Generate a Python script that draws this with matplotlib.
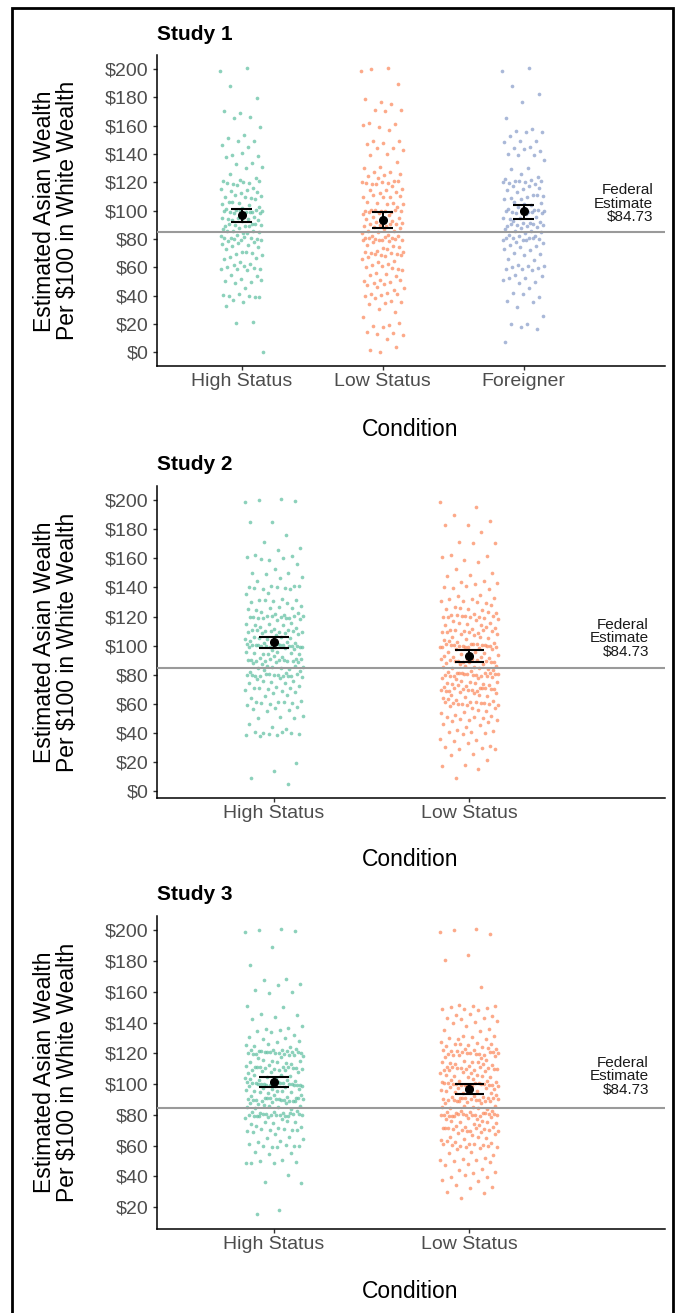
import numpy as np
import matplotlib
matplotlib.use("Agg")
import matplotlib.pyplot as plt
from matplotlib.patches import Rectangle

plt.rcParams['font.family'] = ['Liberation Sans', 'DejaVu Sans']

# ---------------- data ----------------
conds1 = ["High Status", "Low Status", "Foreigner"]
conds23 = ["High Status", "Low Status"]

# Study 1
s1_high_vals = [200,188,180,170,166,160,153,151,150,146,145,140,138,134,130,126,124,121,120,117,115,112,110,107,105,102,100,98,95,93,90,88,85,83,80,78,75,72,70,67,65,62,60,58,55,51,50,45,40,38,35,33,22,20,0]
s1_high_cnts = [2,1,1,2,2,1,1,1,2,1,1,3,1,2,2,1,1,2,5,2,3,2,5,2,4,3,9,3,5,3,7,3,5,3,8,3,4,2,4,2,2,2,5,2,2,1,4,1,5,2,1,1,1,1,1]
s1_low_vals = [200,190,178,175,172,170,162,160,157,150,147,145,142,140,135,130,128,125,122,120,118,115,112,110,107,105,102,100,98,95,92,90,88,85,82,80,78,75,72,70,67,65,62,60,57,55,50,48,45,42,40,37,35,30,25,20,18,15,12,10,3,0]
s1_low_cnts = [3,1,2,1,2,1,2,2,1,2,2,2,1,2,1,2,2,3,2,6,2,3,2,5,2,3,2,8,3,4,3,6,3,4,3,9,3,4,3,7,2,3,2,4,2,3,5,2,3,2,3,2,3,2,1,3,1,2,2,1,2,1]
s1_for_vals = [200,188,183,178,165,158,157,155,153,150,148,145,143,140,135,130,125,122,120,118,115,112,110,108,105,102,100,98,95,92,90,88,85,82,80,78,75,72,70,65,62,60,58,55,52,50,45,42,40,36,33,25,20,17,7]
s1_for_cnts = [2,1,1,1,1,1,2,1,1,2,1,2,2,3,1,2,2,3,6,2,3,2,4,2,4,3,7,3,4,4,6,3,4,3,7,3,3,2,3,2,2,4,2,2,2,3,1,1,2,2,1,1,2,2,1]

# Study 2
s2_high_vals = [200,186,184,176,172,168,165,162,160,157,152,150,146,145,142,140,135,132,130,127,125,122,120,118,115,112,110,108,105,102,100,98,95,92,90,88,85,82,80,78,75,72,70,68,65,62,60,58,55,52,50,45,42,40,38,20,15,8,5]
s2_high_cnts = [4,1,1,1,1,1,1,2,4,1,1,3,2,1,1,8,2,2,5,2,4,4,10,3,5,4,8,4,6,5,16,4,7,4,10,4,7,4,12,3,5,3,5,2,3,2,6,2,3,1,3,2,1,8,1,1,1,1,1]
s2_low_vals = [200,195,190,186,184,182,178,172,170,162,160,157,153,151,148,145,142,140,135,132,130,127,125,122,120,118,115,112,110,108,105,102,100,98,95,92,90,88,85,82,80,78,75,72,70,68,65,62,60,58,55,52,50,48,45,42,40,35,32,30,28,25,22,17,15,10]
s2_low_cnts = [1,1,1,1,1,1,1,2,1,2,2,1,1,1,2,2,2,4,2,3,4,2,4,4,9,3,5,4,8,3,5,4,15,4,6,5,10,4,7,5,14,4,7,5,12,3,5,4,10,3,4,2,6,2,3,2,4,3,2,3,1,2,1,2,1,1]

# Study 3
s3_high_vals = [200,190,177,168,166,164,161,160,150,146,143,142,137,135,133,130,127,125,122,120,118,115,112,110,108,105,102,100,98,95,92,90,88,85,82,80,78,75,72,70,68,65,62,60,55,50,48,41,37,17,15]
s3_high_cnts = [4,1,1,2,1,1,1,2,2,2,1,1,3,2,2,3,2,4,6,14,4,6,5,10,5,6,5,18,5,7,6,14,5,7,5,14,4,5,3,6,2,3,2,7,3,5,1,1,2,1,1]
s3_low_vals = [200,198,185,180,163,152,150,148,145,143,140,137,135,130,127,125,122,120,118,115,112,110,108,105,102,100,98,95,92,90,88,85,82,80,78,75,72,70,68,65,62,60,58,55,52,50,47,45,42,40,37,35,32,30,25]
s3_low_cnts = [3,1,1,1,1,2,4,2,3,3,3,2,2,6,3,5,6,12,4,6,5,10,5,6,5,16,5,7,6,12,5,7,6,14,5,6,5,10,4,5,4,8,2,3,2,4,2,2,2,3,2,1,2,2,1]

# means and 95% CI
s1_mean = [97.0, 93.2, 99.5]
s1_lo = [91.8, 87.6, 94.4]
s1_hi = [101.2, 99.1, 104.4]
s2_mean = [102.6, 92.6]
s2_lo = [98.5, 88.9]
s2_hi = [106.2, 96.7]
s3_mean = [101.6, 96.8]
s3_lo = [97.9, 93.5]
s3_hi = [104.8, 100.0]

federal = 84.73
colors = {"High Status": "#66C2A5", "Low Status": "#FC8D62", "Foreigner": "#8DA0CB"}

# ---------------- figure ----------------
W, H = 685, 1313
fig = plt.figure(figsize=(W / 100, H / 100), dpi=100)


def ax_rect(top_px, bottom_px, left_px=157, right_px=664.5):
    return [left_px / W, 1 - bottom_px / H, (right_px - left_px) / W, (bottom_px - top_px) / H]


def jitter_offsets(n, a):
    i = np.arange(n)
    return ((i * a) % 1.0 - 0.5) * 2.0


def draw_panel(ax, conds, groups, means, los, his, ylim, yticks, xlim, text_x):
    for k, (cond, (vals, cnts)) in enumerate(zip(conds, groups)):
        y = np.repeat(np.array(vals, dtype=float), cnts)
        n = len(y)
        xj = (k + 1) + 0.15 * jitter_offsets(n, 0.6180339887)
        yj = y + 1.2 * jitter_offsets(n, 0.7548776662)
        ax.scatter(xj, yj, s=7, color=colors[cond], alpha=0.75, linewidths=0, zorder=2)
    ax.axhline(federal, color="#9a9a9a", lw=1.5, zorder=3)
    xs = np.arange(1, len(conds) + 1)
    ax.vlines(xs, los, his, color="black", lw=1.4, zorder=4)
    ax.hlines(los, xs - 0.075, xs + 0.075, color="black", lw=1.5, zorder=4)
    ax.hlines(his, xs - 0.075, xs + 0.075, color="black", lw=1.5, zorder=4)
    ax.plot(xs, means, "o", color="black", ms=5.5, zorder=5)
    ax.text(text_x, 105, "Federal\nEstimate\n$84.73", ha="right", va="center",
            fontsize=11, linespacing=0.95, color="#1a1a1a", zorder=6)
    ax.set_xlim(*xlim)
    ax.set_ylim(*ylim)
    ax.set_xticks(xs)
    ax.set_xticklabels(conds)
    ax.set_yticks(yticks)
    ax.set_yticklabels(["$%d" % t for t in yticks])
    for s in ("top", "right"):
        ax.spines[s].set_visible(False)
    for s in ("left", "bottom"):
        ax.spines[s].set_color("black")
        ax.spines[s].set_linewidth(1.1)
    ax.tick_params(axis="both", length=3, width=1.0, color="#333333",
                   labelcolor="#4D4D4D", labelsize=14)
    ax.tick_params(axis="x", pad=2)
    ax.tick_params(axis="y", pad=3)


ax1 = fig.add_axes(ax_rect(55, 366.5))
draw_panel(ax1, conds1,
           [(s1_high_vals, s1_high_cnts), (s1_low_vals, s1_low_cnts), (s1_for_vals, s1_for_cnts)],
           s1_mean, s1_lo, s1_hi, (-10, 210), list(range(0, 201, 20)), (0.4, 4.0), 3.92)

ax2 = fig.add_axes(ax_rect(486, 798))
draw_panel(ax2, conds23,
           [(s2_high_vals, s2_high_cnts), (s2_low_vals, s2_low_cnts)],
           s2_mean, s2_lo, s2_hi, (-4.75, 209.75), list(range(0, 201, 20)), (0.4, 3.0), 2.92)

ax3 = fig.add_axes(ax_rect(916, 1229))
draw_panel(ax3, conds23,
           [(s3_high_vals, s3_high_cnts), (s3_low_vals, s3_low_cnts)],
           s3_mean, s3_lo, s3_hi, (5.75, 209.25), list(range(20, 201, 20)), (0.4, 3.0), 2.92)

# titles, axis labels
for title, ty in (("Study 1", 35), ("Study 2", 465), ("Study 3", 895)):
    fig.text(157 / W, 1 - ty / H, title, ha="left", va="center", fontsize=15,
             fontweight="bold", color="black")

for top_px, bot_px, cond_y in ((55, 366.5, 430), (486, 798, 860), (916, 1229, 1292)):
    fig.text(56 / W, 1 - ((top_px + bot_px) / 2) / H,
             "Estimated Asian Wealth\nPer $100 in White Wealth",
             rotation=90, ha="center", va="center", fontsize=16.5,
             linespacing=0.95, multialignment="center", color="black")
    fig.text(410.5 / W, 1 - cond_y / H, "Condition", ha="center", va="center",
             fontsize=16.5, color="black")

# outer frame
fig.add_artist(Rectangle((12 / W, -0.02), (673 - 12) / W, 1.02 - 8 / H,
                         transform=fig.transFigure, fill=False,
                         edgecolor="black", lw=2.0))

fig.savefig("out.png", dpi=100)
